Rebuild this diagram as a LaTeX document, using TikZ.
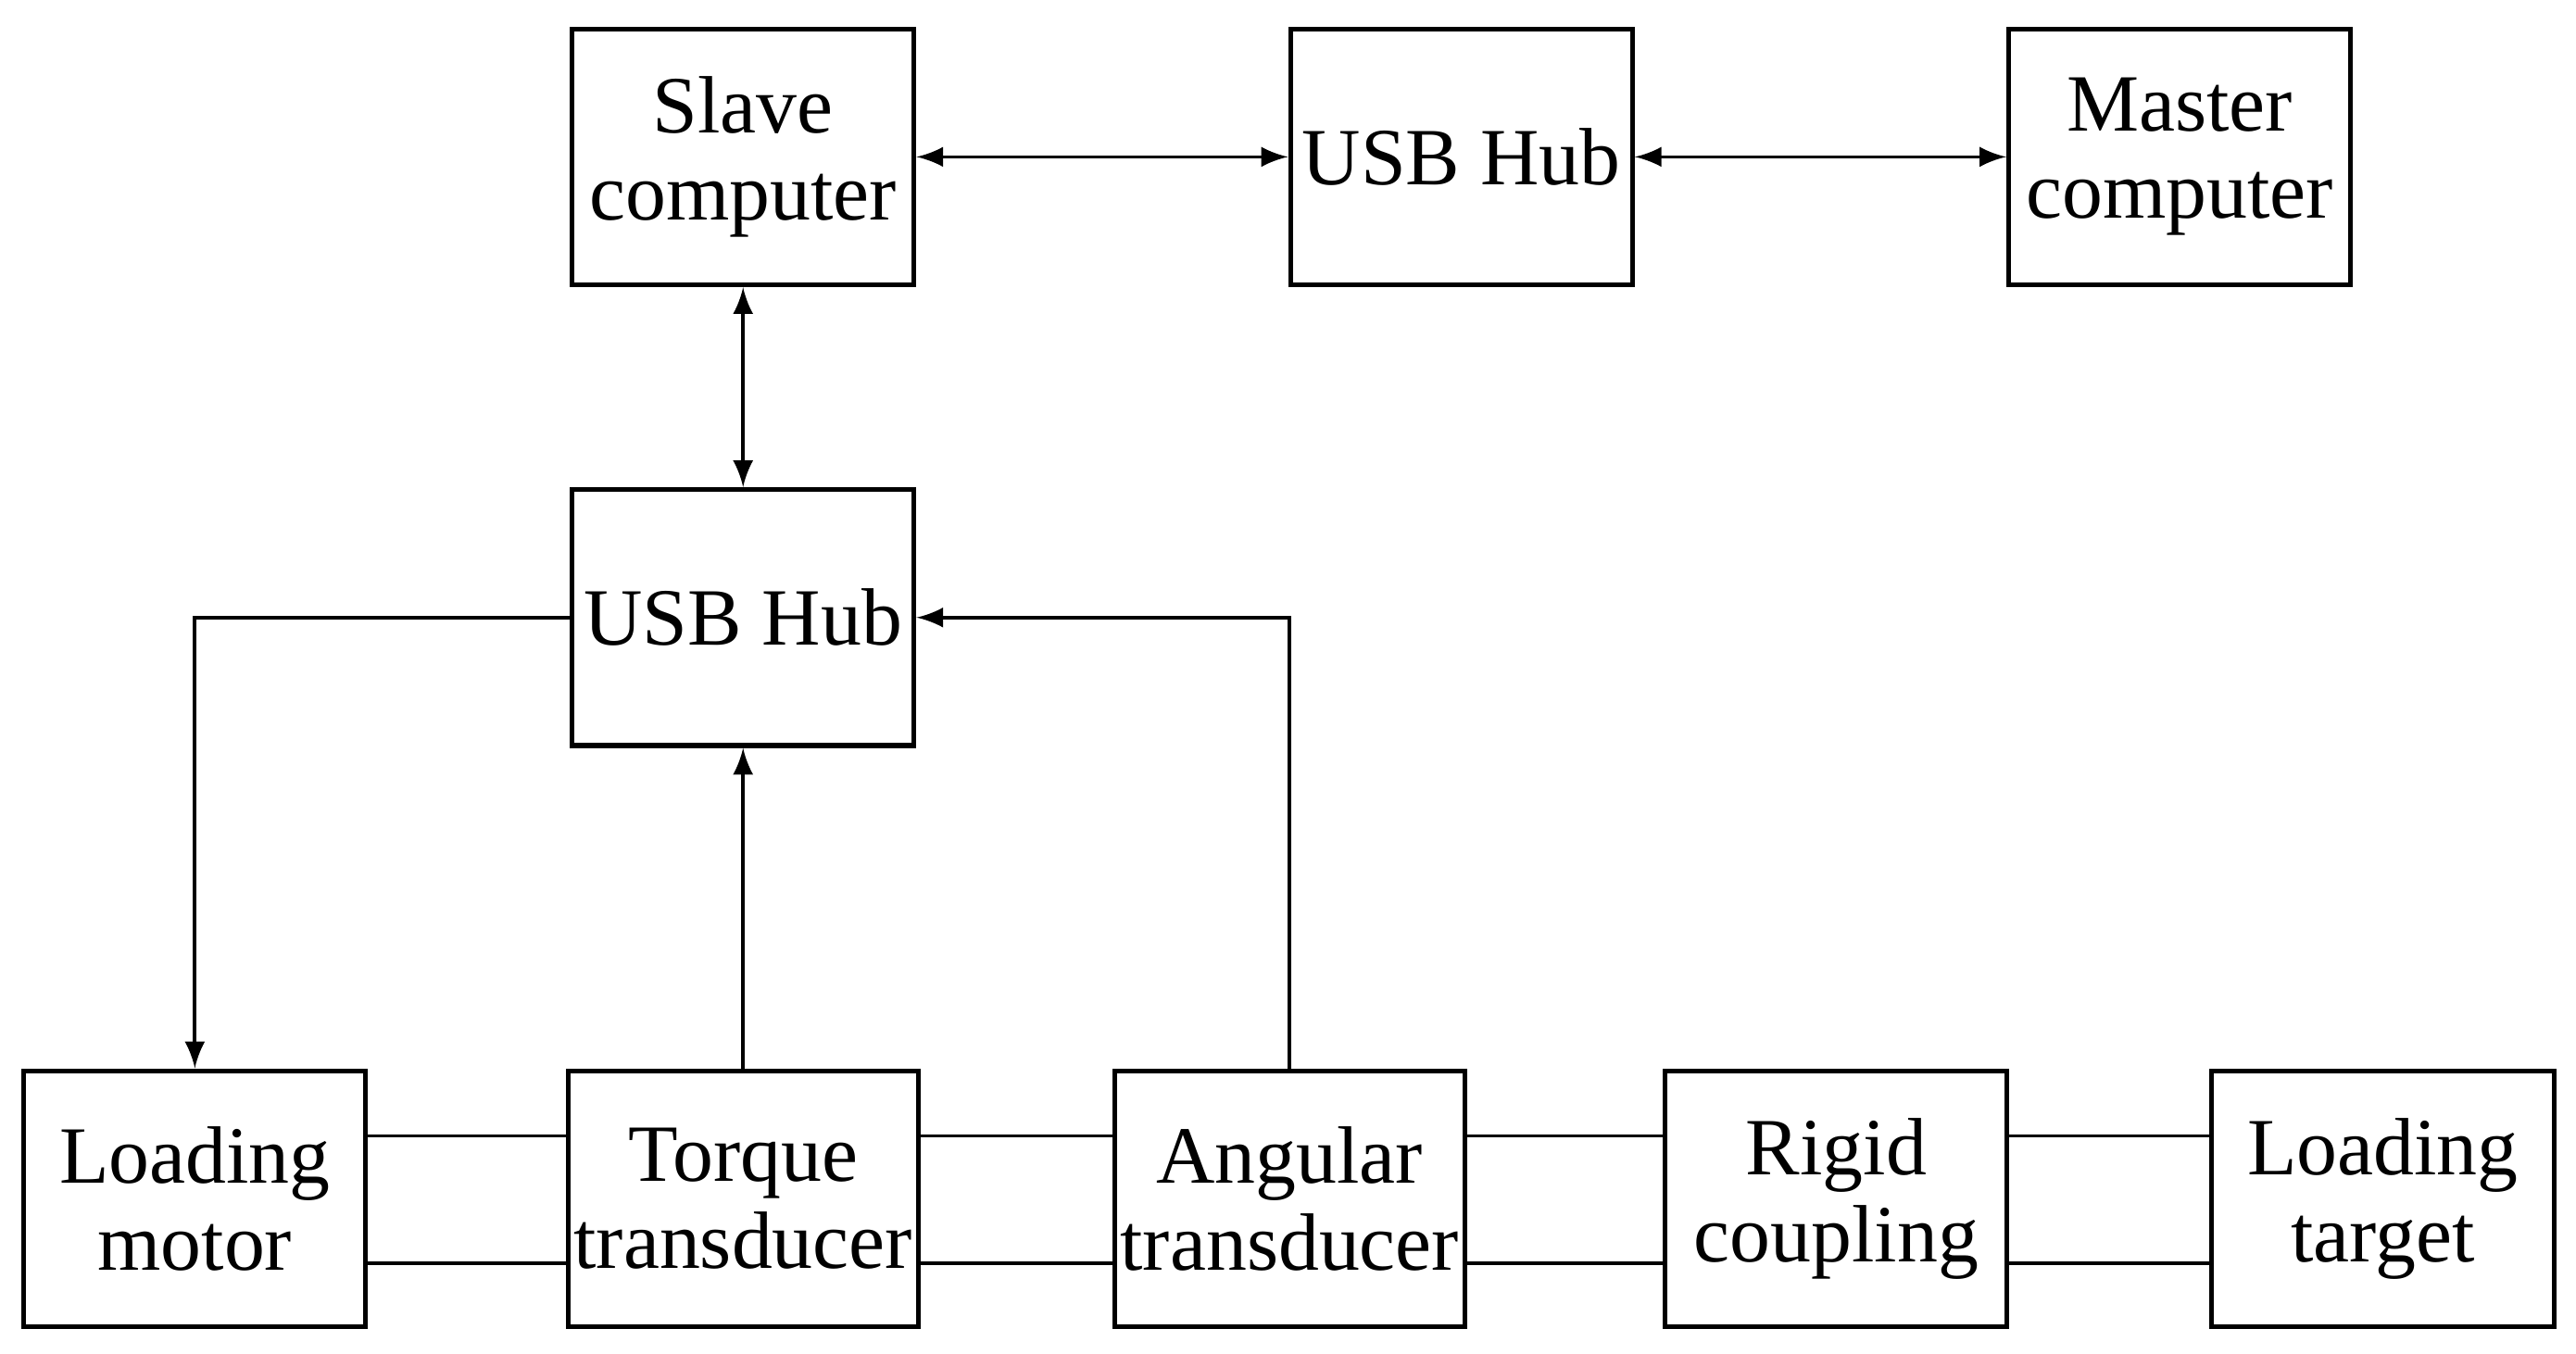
\documentclass[tikz,border=0pt]{standalone}
\usepackage{fontspec}
\setmainfont{Liberation Serif}
\usetikzlibrary{arrows}
\tikzset{
  blk/.style={draw, line width=0.8pt, minimum width=2.07cm, minimum height=1.55cm,
    align=center, inner sep=1pt, font=\fontsize{14}{15}\selectfont},
  lnk/.style={line width=0.6pt},
  arr/.style={lnk, -latex},
  darr/.style={lnk, latex-latex},
}
\begin{document}
\begin{tikzpicture}[x=0.01cm,y=-0.01cm]
\useasboundingbox (0,0) rectangle (1560,820);
% top row
\node[blk] (slave) at (450,95) {Slave\\computer};
\node[blk] (hubT) at (885,95) {USB Hub};
\node[blk] (master) at (1320,95) {Master\\computer};
% middle
\node[blk] (hubM) at (450,374) {USB Hub};
% bottom row
\node[blk] (motor) at (118,726) {Loading\\motor};
\node[blk] (torque) at (450,726) {Torque\\transducer};
\node[blk] (angle) at (781,726) {Angular\\transducer};
\node[blk] (coup) at (1112,726) {Rigid\\coupling};
\node[blk] (target) at (1443,726) {Loading\\target};
% links
\draw[darr] (slave) -- (hubT);
\draw[darr] (hubT) -- (master);
\draw[darr] (slave) -- (hubM);
\draw[arr] (hubM.west) -| (motor.north);
\draw[arr] (torque) -- (hubM);
\draw[arr] (angle.north) |- (hubM.east);
% shafts
\foreach \a/\b in {motor/torque,torque/angle,angle/coup,coup/target}{
  \draw[lnk] ([yshift=0.38cm]\a.east) -- ([yshift=0.38cm]\b.west);
  \draw[lnk] ([yshift=-0.39cm]\a.east) -- ([yshift=-0.39cm]\b.west);
}
\end{tikzpicture}
\end{document}
